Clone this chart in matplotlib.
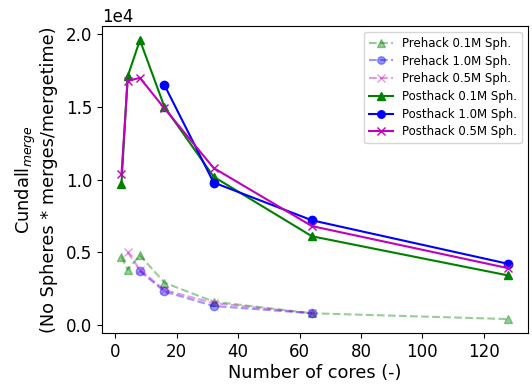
import matplotlib
matplotlib.use("Agg")
import matplotlib.pyplot as plt
from matplotlib.ticker import MultipleLocator

# values in units of 1e4
pre01_x = [2, 4, 8, 16, 32, 64, 128]
pre01_y = [0.47, 0.38, 0.48, 0.29, 0.16, 0.08, 0.04]
pre10_x = [8, 16, 32, 64]
pre10_y = [0.37, 0.23, 0.13, 0.08]
pre05_x = [4, 8, 16, 32, 64]
pre05_y = [0.50, 0.38, 0.24, 0.15, 0.08]
post01_x = [2, 4, 8, 16, 32, 64, 128]
post01_y = [0.97, 1.71, 1.96, 1.50, 1.02, 0.61, 0.34]
post10_x = [16, 32, 64, 128]
post10_y = [1.65, 0.98, 0.72, 0.42]
post05_x = [2, 4, 8, 16, 32, 64, 128]
post05_y = [1.04, 1.68, 1.70, 1.49, 1.08, 0.68, 0.39]

scale = 1e4

fig = plt.figure(figsize=(5.32, 3.85), dpi=100)
ax = fig.add_axes([0.192, 0.135, 0.80, 0.797])

ax.plot(pre01_x, [v * scale for v in pre01_y], '--^', color='g', alpha=0.4, label='Prehack 0.1M Sph.')
ax.plot(pre10_x, [v * scale for v in pre10_y], '--o', color='b', alpha=0.4, label='Prehack 1.0M Sph.')
ax.plot(pre05_x, [v * scale for v in pre05_y], '--x', color='m', alpha=0.4, label='Prehack 0.5M Sph.')
ax.plot(post01_x, [v * scale for v in post01_y], '-^', color='g', label='Posthack 0.1M Sph.')
ax.plot(post10_x, [v * scale for v in post10_y], '-o', color='b', label='Posthack 1.0M Sph.')
ax.plot(post05_x, [v * scale for v in post05_y], '-x', color='m', label='Posthack 0.5M Sph.')

ax.yaxis.set_major_locator(MultipleLocator(0.5 * scale))
ax.ticklabel_format(axis='y', style='sci', scilimits=(0, 0))
ax.tick_params(labelsize=12)
ax.yaxis.get_offset_text().set_fontsize(12)
ax.set_xticks([0, 20, 40, 60, 80, 100, 120])
ax.set_xlabel('Number of cores (-)', fontsize=12.8, labelpad=2)
ax.set_ylabel('Cundall$_{merge}$\n(No Spheres * merges/mergetime)', fontsize=12.8, labelpad=6,
              linespacing=1.1)
ax.legend(loc='upper right', fontsize=8.5, labelspacing=0.4, handlelength=2.0,
          markerscale=0.9)

fig.savefig('out.png', dpi=100)
